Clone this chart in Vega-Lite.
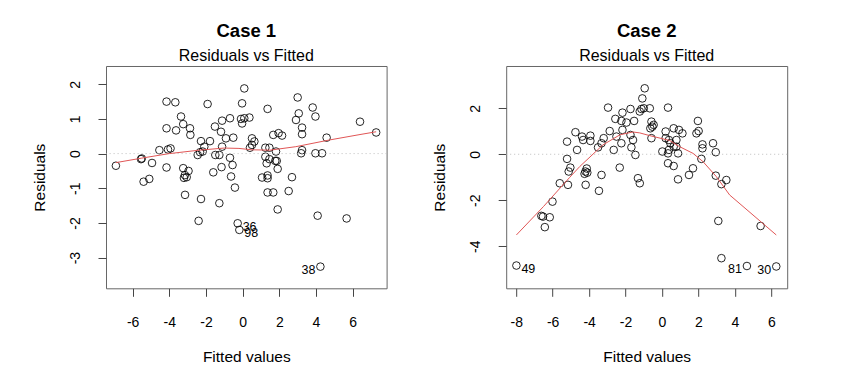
{
"$schema": "https://vega.github.io/schema/vega-lite/v6.json",
"autosize": {"type": "pad"},
"padding": {"left": 31, "top": 22, "right": 0, "bottom": 0},
"background": "white",
"spacing": 119.2,
"bounds": "flush",
"config": {
  "font": "Liberation Sans",
  "view": {"stroke": "#666", "strokeWidth": 1},
  "axis": {"grid": false, "domain": false, "tickColor": "#444", "tickSize": 8, "labelFontSize": 14, "titleFontSize": 15.5, "labelColor": "black", "titleColor": "black", "titleFontWeight": "normal", "labelFont": "Liberation Sans", "titleFont": "Liberation Sans", "labelExpr": "toString(datum.value)"},
  "axisX": {"labelPadding": 19, "titlePadding": 20},
  "axisY": {"labelAngle": -90, "labelAlign": "center", "labelBaseline": "bottom", "labelPadding": 16, "titlePadding": 21},
  "title": {"fontSize": 18.5, "fontWeight": "bold", "subtitleFontSize": 16, "subtitleColor": "black", "color": "black", "anchor": "middle", "offset": 2, "subtitlePadding": 7, "font": "Liberation Sans", "subtitleFont": "Liberation Sans"}
},
"datasets": {
  "c1": [
    {"x":-6.91,"y":-0.35},{"x":-5.54,"y":-0.16},{"x":-5.50,"y":-0.14},{"x":-4.94,"y":-0.27},{"x":-5.40,"y":-0.81},{"x":-5.09,"y":-0.73},{"x":-4.54,"y":0.10},{"x":-4.15,"y":1.50},{"x":-3.67,"y":1.48},{"x":-4.15,"y":0.73},
    {"x":-4.07,"y":0.12},{"x":-3.93,"y":0.15},{"x":-4.15,"y":-0.40},{"x":-3.36,"y":1.07},{"x":-3.63,"y":0.67},{"x":-3.24,"y":0.85},{"x":-2.87,"y":0.73},{"x":-2.85,"y":0.54},{"x":-3.24,"y":-0.42},{"x":-2.95,"y":-0.50},
    {"x":-3.15,"y":-0.62},{"x":-3.05,"y":-0.68},{"x":-3.20,"y":-0.70},{"x":-1.91,"y":1.43},{"x":-2.27,"y":0.36},{"x":-2.45,"y":-0.04},{"x":-2.32,"y":0.04},{"x":-2.18,"y":0.06},{"x":-2.09,"y":0.20},{"x":-1.60,"y":-0.54},
    {"x":-1.51,"y":0.78},{"x":-1.78,"y":0.36},{"x":-1.49,"y":-0.04},{"x":-1.27,"y":-0.04},{"x":-1.18,"y":0.63},{"x":-1.12,"y":0.95},{"x":-1.12,"y":0.20},{"x":-0.69,"y":1.02},{"x":-0.91,"y":0.44},{"x":-0.51,"y":0.46},
    {"x":-0.69,"y":-0.12},{"x":-0.55,"y":-0.33},{"x":-1.15,"y":-0.39},{"x":-0.63,"y":-0.66},{"x":-0.42,"y":-0.98},{"x":0.09,"y":1.88},{"x":-0.03,"y":1.45},{"x":-0.09,"y":1.00},{"x":0.09,"y":1.02},{"x":0.37,"y":1.04},
    {"x":-0.03,"y":0.87},{"x":1.36,"y":1.29},{"x":0.51,"y":0.44},{"x":0.64,"y":0.35},{"x":0.40,"y":0.17},{"x":0.51,"y":0.25},{"x":1.24,"y":0.17},{"x":1.46,"y":0.17},{"x":1.82,"y":0.06},{"x":1.67,"y":0.54},
    {"x":1.96,"y":0.59},{"x":2.15,"y":0.52},{"x":1.24,"y":-0.09},{"x":1.46,"y":-0.16},{"x":1.78,"y":-0.21},{"x":1.86,"y":-0.21},{"x":1.31,"y":-0.28},{"x":1.91,"y":-0.44},{"x":1.06,"y":-0.69},{"x":1.36,"y":-0.63},
    {"x":1.36,"y":-0.71},{"x":2.69,"y":-0.68},{"x":3.00,"y":1.62},{"x":3.06,"y":1.16},{"x":2.91,"y":0.97},{"x":3.24,"y":0.75},{"x":3.24,"y":0.56},{"x":3.82,"y":1.33},{"x":3.97,"y":1.07},{"x":4.58,"y":0.46},
    {"x":3.24,"y":0.10},{"x":3.19,"y":0.01},{"x":3.97,"y":0.01},{"x":4.33,"y":0.01},{"x":6.40,"y":0.92},{"x":7.28,"y":0.61},{"x":-3.14,"y":-1.19},{"x":-2.27,"y":-1.31},{"x":-1.27,"y":-1.43},{"x":-2.40,"y":-1.94},
    {"x":-0.27,"y":-2.01,"label":"36"},{"x":-0.18,"y":-2.20,"label":"98"},{"x":1.36,"y":-1.12},{"x":1.67,"y":-1.12},{"x":2.51,"y":-1.08},{"x":1.91,"y":-1.61},{"x":4.09,"y":-1.79},{"x":5.67,"y":-1.87},{"x":4.24,"y":-3.26,"label":"38"}
  ],
  "c1fit": [
    {"x":-6.91,"y":-0.26},{"x":-5.5,"y":-0.13},{"x":-4.0,"y":0.0},{"x":-2.36,"y":0.10},{"x":-1.0,"y":0.16},{"x":-0.2,"y":0.15},{"x":0.5,"y":0.11},{"x":1.5,"y":0.10},{"x":2.9,"y":0.20},{"x":4.7,"y":0.39},{"x":6.4,"y":0.55},{"x":7.28,"y":0.63}
  ],
  "c2": [
    {"x":-2.96,"y":2.03},{"x":-2.56,"y":1.54},{"x":-2.17,"y":1.81},{"x":-2.23,"y":1.45},{"x":-1.95,"y":1.38},{"x":-1.73,"y":1.97},{"x":-1.53,"y":1.45},{"x":-1.22,"y":1.86},{"x":-4.75,"y":0.96},{"x":-5.21,"y":0.55},
    {"x":-4.39,"y":0.77},{"x":-4.33,"y":0.62},{"x":-3.93,"y":0.81},{"x":-3.93,"y":0.58},{"x":-3.20,"y":0.70},{"x":-2.87,"y":1.01},{"x":-3.32,"y":0.48},{"x":-3.51,"y":0.30},{"x":-2.50,"y":0.77},{"x":-2.17,"y":1.06},
    {"x":-2.23,"y":0.48},{"x":-2.65,"y":0.19},{"x":-1.73,"y":0.84},{"x":-1.59,"y":0.62},{"x":-1.68,"y":0.30},{"x":-1.46,"y":-0.03},{"x":-4.66,"y":0.19},{"x":-5.21,"y":-0.20},{"x":-5.03,"y":-0.58},{"x":-5.12,"y":-0.75},
    {"x":-4.13,"y":-0.62},{"x":-4.20,"y":-0.75},{"x":-4.10,"y":-0.80},{"x":-4.25,"y":-0.85},{"x":-2.32,"y":-0.58},{"x":-3.32,"y":-0.90},{"x":-5.61,"y":-1.26},{"x":-5.16,"y":-1.33},{"x":-4.19,"y":-1.33},{"x":-1.32,"y":-1.04},
    {"x":-1.22,"y":-1.26},{"x":-0.95,"y":2.87},{"x":-1.08,"y":2.43},{"x":-1.13,"y":1.97},{"x":-1.00,"y":2.00},{"x":-0.67,"y":2.00},{"x":0.33,"y":2.03},{"x":-0.58,"y":1.42},{"x":-0.46,"y":1.28},{"x":-0.64,"y":1.13},
    {"x":-0.53,"y":1.20},{"x":-0.58,"y":0.70},{"x":0.20,"y":0.99},{"x":0.64,"y":1.13},{"x":0.93,"y":1.06},{"x":1.12,"y":0.91},{"x":0.20,"y":0.70},{"x":0.38,"y":0.62},{"x":0.79,"y":0.62},{"x":1.97,"y":1.45},
    {"x":1.89,"y":0.91},{"x":2.01,"y":1.01},{"x":0.46,"y":0.48},{"x":0.64,"y":0.33},{"x":0.79,"y":0.33},{"x":0.02,"y":0.12},{"x":0.33,"y":0.04},{"x":0.38,"y":0.19},{"x":0.88,"y":0.04},{"x":2.22,"y":0.43},
    {"x":2.22,"y":0.26},{"x":2.80,"y":0.48},{"x":2.95,"y":0.09},{"x":2.16,"y":-0.20},{"x":0.33,"y":-0.39},{"x":0.64,"y":-0.51},{"x":1.70,"y":-0.61},{"x":1.48,"y":-0.90},{"x":0.88,"y":-1.09},{"x":2.95,"y":-0.93},
    {"x":3.53,"y":-1.12},{"x":3.26,"y":-1.30},{"x":-3.46,"y":-1.59},{"x":-6.01,"y":-2.06},{"x":-6.62,"y":-2.68},{"x":-6.53,"y":-2.71},{"x":-6.16,"y":-2.74},{"x":-6.43,"y":-3.17},{"x":-7.99,"y":-4.84,"label":"49"},{"x":3.09,"y":-2.90},
    {"x":5.41,"y":-3.12},{"x":3.26,"y":-4.52},{"x":4.66,"y":-4.86,"label":"81"},{"x":6.27,"y":-4.88,"label":"30"}
  ],
  "c2fit": [
    {"x":-7.99,"y":-3.51},{"x":-6.5,"y":-2.27},{"x":-5.06,"y":-1.0},{"x":-4.51,"y":-0.53},{"x":-3.24,"y":0.41},{"x":-2.3,"y":0.85},{"x":-1.6,"y":0.97},{"x":-1.22,"y":0.93},{"x":-0.67,"y":0.81},{"x":0.42,"y":0.60},{"x":0.97,"y":0.33},{"x":1.70,"y":0.04},{"x":2.25,"y":-0.32},{"x":2.98,"y":-0.97},{"x":3.71,"y":-1.77},{"x":6.27,"y":-3.51}
  ],
  "zero": [{"y": 0}]
},
"hconcat": [
  {
    "width": 280.6, "height": 222.3,
    "title": {"text": "Case 1", "subtitle": "Residuals vs Fitted"},
    "layer": [
      {"data": {"name": "c1"}, "mark": {"type": "point", "shape": "circle", "filled": false, "stroke": "black", "strokeWidth": 0.85, "size": 58, "opacity": 1},
       "encoding": {
         "x": {"field": "x", "type": "quantitative", "scale": {"domain": [-7.45, 7.85], "nice": false, "zero": false}, "axis": {"values": [-6,-4,-2,0,2,4,6], "title": "Fitted values"}},
         "y": {"field": "y", "type": "quantitative", "scale": {"domain": [-3.885, 2.527], "nice": false, "zero": false}, "axis": {"values": [-3,-2,-1,0,1,2], "title": "Residuals"}}}},
      {"data": {"name": "zero"}, "mark": {"type": "rule", "color": "#bdbdbd", "strokeDash": [1, 3], "strokeWidth": 1},
       "encoding": {"y": {"field": "y", "type": "quantitative"}}},
      {"data": {"name": "c1fit"}, "mark": {"type": "line", "color": "#e05555", "strokeWidth": 1},
       "encoding": {"x": {"field": "x", "type": "quantitative"}, "y": {"field": "y", "type": "quantitative"}}},
      {"data": {"name": "c1"}, "transform": [{"filter": "isValid(datum.label) && datum.x < 0"}], "mark": {"type": "text", "align": "left", "baseline": "middle", "dx": 5, "dy": 3.5, "fontSize": 12.5, "color": "black"},
       "encoding": {"x": {"field": "x", "type": "quantitative"}, "y": {"field": "y", "type": "quantitative"}, "text": {"field": "label"}}},
      {"data": {"name": "c1"}, "transform": [{"filter": "isValid(datum.label) && datum.x >= 0"}], "mark": {"type": "text", "align": "right", "baseline": "middle", "dx": -5, "dy": 3.5, "fontSize": 12.5, "color": "black"},
       "encoding": {"x": {"field": "x", "type": "quantitative"}, "y": {"field": "y", "type": "quantitative"}, "text": {"field": "label"}}}
    ]
  },
  {
    "width": 281, "height": 222.3,
    "title": {"text": "Case 2", "subtitle": "Residuals vs Fitted"},
    "layer": [
      {"data": {"name": "c2"}, "mark": {"type": "point", "shape": "circle", "filled": false, "stroke": "black", "strokeWidth": 0.85, "size": 58, "opacity": 1},
       "encoding": {
         "x": {"field": "x", "type": "quantitative", "scale": {"domain": [-8.55, 6.87], "nice": false, "zero": false}, "axis": {"values": [-8,-6,-4,-2,0,2,4,6], "title": "Fitted values"}},
         "y": {"field": "y", "type": "quantitative", "scale": {"domain": [-5.83, 3.84], "nice": false, "zero": false}, "axis": {"values": [-4,-2,0,2], "title": "Residuals"}}}},
      {"data": {"name": "zero"}, "mark": {"type": "rule", "color": "#bdbdbd", "strokeDash": [1, 3], "strokeWidth": 1},
       "encoding": {"y": {"field": "y", "type": "quantitative"}}},
      {"data": {"name": "c2fit"}, "mark": {"type": "line", "color": "#e05555", "strokeWidth": 1},
       "encoding": {"x": {"field": "x", "type": "quantitative"}, "y": {"field": "y", "type": "quantitative"}}},
      {"data": {"name": "c2"}, "transform": [{"filter": "isValid(datum.label) && datum.x < 0"}], "mark": {"type": "text", "align": "left", "baseline": "middle", "dx": 5, "dy": 3.5, "fontSize": 12.5, "color": "black"},
       "encoding": {"x": {"field": "x", "type": "quantitative"}, "y": {"field": "y", "type": "quantitative"}, "text": {"field": "label"}}},
      {"data": {"name": "c2"}, "transform": [{"filter": "isValid(datum.label) && datum.x >= 0"}], "mark": {"type": "text", "align": "right", "baseline": "middle", "dx": -5, "dy": 3.5, "fontSize": 12.5, "color": "black"},
       "encoding": {"x": {"field": "x", "type": "quantitative"}, "y": {"field": "y", "type": "quantitative"}, "text": {"field": "label"}}}
    ]
  }
]
}
